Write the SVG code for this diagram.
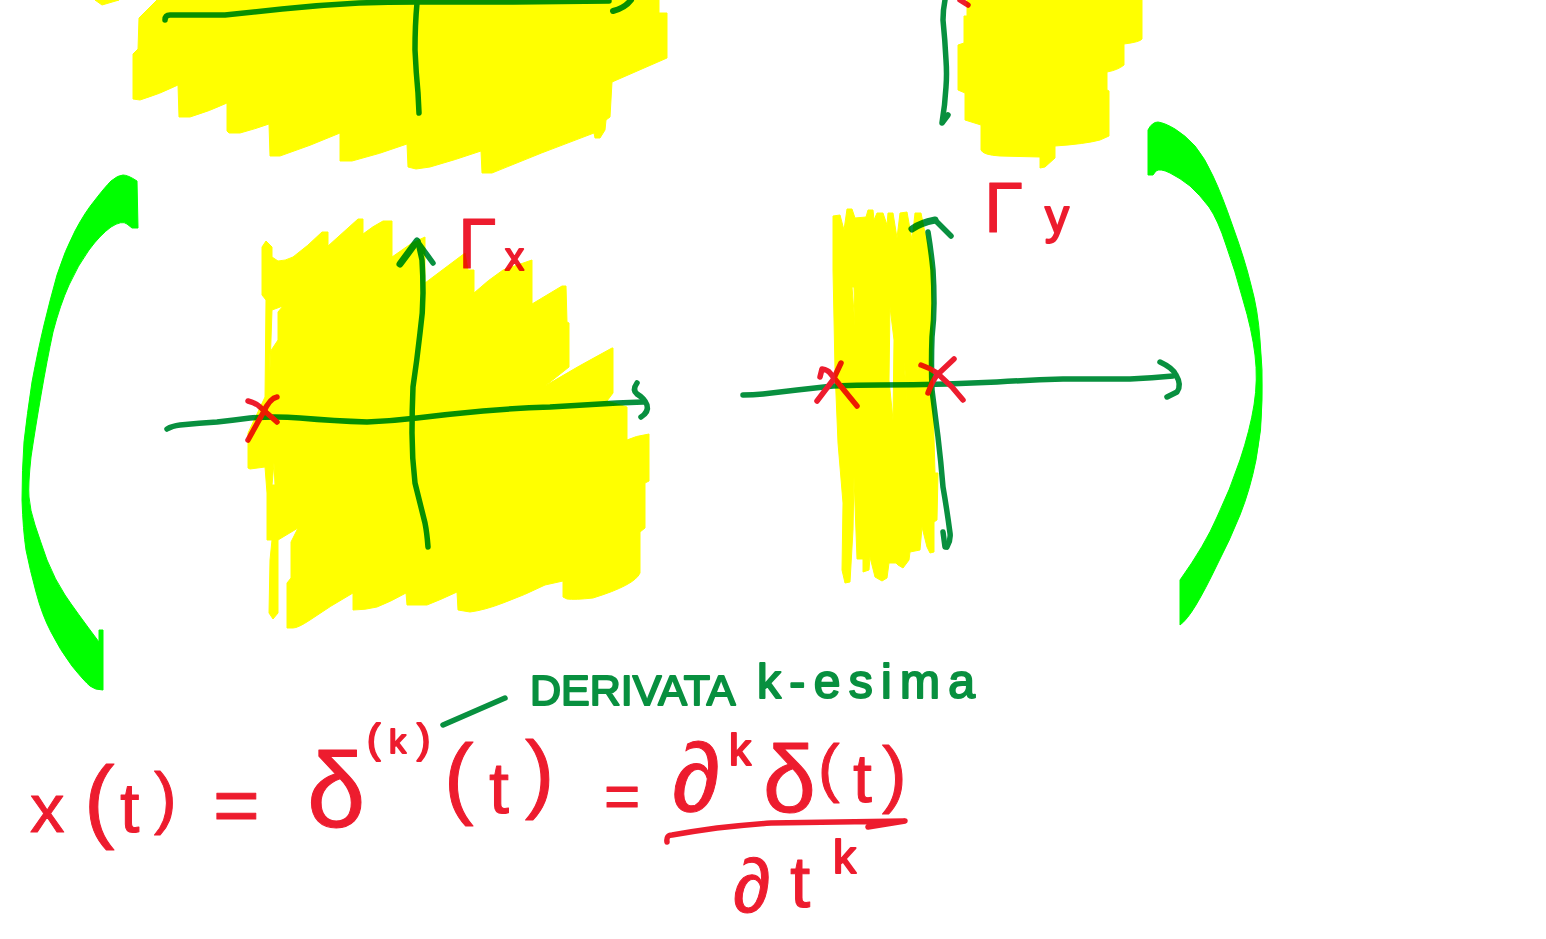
<svg xmlns="http://www.w3.org/2000/svg" width="1546" height="939" viewBox="0 0 1546 939">
<style>
.hl{fill:#ffff00;fill-rule:evenodd;stroke:#ffff00;stroke-width:1;stroke-linejoin:round;mix-blend-mode:multiply}
.br{fill:#00ff00;stroke:#00ff00;stroke-width:1;stroke-linejoin:round}
.g{fill:none;stroke:#08903f;stroke-width:5.5;stroke-linecap:round;stroke-linejoin:round}
.r{fill:none;stroke:#ed1c2e;stroke-width:5.5;stroke-linecap:round;stroke-linejoin:round}
text{font-family:"Liberation Sans","DejaVu Sans",sans-serif;stroke-linejoin:round}
.tr{fill:#ed1c2e;stroke:#ed1c2e;stroke-width:1}
.ts{fill:#ed1c2e;stroke:#ed1c2e;stroke-width:2}
.tg{fill:#08903f;stroke:#08903f;stroke-width:2;font-size:43px}
</style>
<rect width="1546" height="939" fill="#ffffff"/>
<g id="brackets">
<path class="br" d="M137 181Q128 175 123 175Q118 175 111 181Q105 187 95 200Q85 212 75 231Q65 250 57 275Q50 300 44 325Q38 350 32 382Q27 415 24 442Q22 470 22 500Q23 530 26 550Q30 570 36 592Q42 615 51 632Q60 650 72 666Q85 682 90 686Q95 690 103 690L103 630L99 630L99 642Q75 610 65 595Q55 580 47 560Q40 540 35 525Q30 510 29 497Q28 485 31 457Q35 430 41 395Q47 360 53 332Q60 305 69 285Q78 265 89 250Q100 235 111 227Q122 220 127 224L132 228L138 228Z"/>
<path class="br" d="M1148 175L1148 130Q1152 122 1158 122Q1165 123 1175 129Q1185 135 1195 146Q1205 158 1213 176Q1222 195 1233 227Q1245 260 1251 285Q1258 310 1260 340Q1263 370 1262 400Q1262 430 1256 460Q1250 490 1240 515Q1230 540 1217 565Q1205 590 1196 605Q1187 620 1180 625L1180 580Q1205 545 1217 517Q1230 490 1240 460Q1250 430 1254 405Q1258 380 1255 355Q1252 330 1243 300Q1235 270 1226 245Q1218 220 1209 207Q1200 195 1190 186Q1180 178 1170 173Q1160 168 1156 171L1153 175Z"/>
</g>
<g id="axes">
<path class="g" d="M167 429Q172 426 180 425Q200 423 217 422Q235 420 250 418Q275 416 300 418Q335 421 367 422Q392 421 417 418Q450 414 483 411Q517 408 550 407Q585 405 617 403L643 402"/>
<path class="g" d="M637 383Q632 390 637 394Q644 398 647 405Q649 412 641 417"/>
<path class="g" d="M428 547Q427 533 425 523Q420 503 415 483Q412 458 412 433Q412 410 413 387Q417 360 420 333Q423 313 423 293Q423 275 422 260L418 242"/>
<path class="g" style="stroke-width:7" d="M400 264L417 241"/>
<path class="g" d="M417 241L433 263"/>
<path class="g" d="M743 395Q753 395 763 394Q780 392 797 390Q815 388 833 386Q857 385 880 385Q913 385 947 384Q972 383 997 382Q1030 380 1063 379Q1097 379 1130 379Q1152 378 1173 376"/>
<path class="g" d="M1160 362Q1173 368 1176 375Q1182 385 1177 392L1167 397"/>
<path class="g" d="M947 547Q951 540 950 533Q947 510 943 487Q941 462 938 437Q935 413 932 390Q931 363 932 337Q934 320 934 303Q934 286 933 270Q931 250 928 232"/>
<path class="g" d="M943 532L945 547"/>
<path class="g" style="stroke-width:7" d="M912 229Q920 223 935 220"/>
<path class="g" d="M935 220L951 236"/>
<path class="g" d="M165 20Q165 15 170 15L225 15Q253 12 282 9Q320 5 359 3Q388 2 417 2L513 2L609 1"/>
<path class="g" style="stroke-width:6" d="M613 11Q625 8 631 0"/>
<path class="g" d="M417 3Q415 25 415 50Q416 72 418 93L419 113"/>
<path class="g" d="M945 0Q943 10 943 20Q945 40 946 60Q947 74 946 87Q945 105 942 123L948 115"/>
<path class="g" d="M443 725L505 698"/>
</g>
<g id="crosses">
<path class="r" d="M248 440L263 413Q270 398 277 397"/>
<path class="r" d="M248 401Q256 403 260 407L277 422"/>
<path class="r" d="M817 401L833 380L841 363"/>
<path class="r" d="M820 377L822 369Q828 370 830 373L857 406"/>
<path class="r" d="M928 393Q932 382 937 375L954 359"/>
<path class="r" d="M921 365Q930 368 937 373L952 387L963 400"/>
<path class="r" d="M960 0L968 5"/>
<path class="r" d="M667 842Q666 835 672 835Q695 831 717 828Q745 825 771 823Q840 822 905 821L868 827"/>
</g>
<g id="labels">
<text class="tr" y="268" x="458" font-size="70">Γ</text>
<text class="ts" y="270" x="505" font-size="38">x</text>
<text class="tr" y="232" x="984" font-size="71">Γ</text>
<text class="ts" y="233" x="1045" font-size="48">y</text>
<text class="tg" x="530" y="705">DERIVATA</text>
<text class="tg" x="757" y="698" style="font-size:48px" textLength="218">k-esima</text>
</g>
<g id="formula">
<text class="tr"><tspan x="30" y="832" font-size="69">x</tspan><tspan x="84" y="831" font-size="92">(</tspan><tspan x="120" y="832" font-size="70">t</tspan><tspan x="154" y="821" font-size="68">)</tspan></text>
<text class="tr" x="213" y="832" font-size="80">=</text>
<text class="tr" x="307" y="827" font-size="105">δ</text>
<text class="ts" y="753"><tspan x="367" font-size="40">(</tspan><tspan x="389" font-size="34">k</tspan><tspan x="417" font-size="40">)</tspan></text>
<text class="tr"><tspan x="444" y="807" font-size="89">(</tspan><tspan x="489" y="813" font-size="72">t</tspan><tspan x="525" y="802" font-size="88">)</tspan></text>
<text class="tr" x="604" y="817" font-size="62">=</text>
<text class="tr" x="672" y="811" font-size="97">∂</text>
<text class="ts" x="729" y="765" font-size="44">k</text>
<text class="tr"><tspan x="763" y="812" font-size="95">δ</tspan><tspan x="818" y="790" font-size="65">(</tspan><tspan x="853" y="802" font-size="68">t</tspan><tspan x="882" y="799" font-size="74">)</tspan></text>
<text class="tr"><tspan x="733" y="912" font-size="76">∂</tspan><tspan x="790" y="907" font-size="73">t</tspan></text>
<text class="ts" x="833" y="873" font-size="46">k</text>
</g>
<g id="highlight">
<path class="hl" d="M262 247L266 241L272 247L272 257L278 261Q285 261 293 257Q308 246 322 232L328 232L328 246L358 219L363 219L363 234Q373 226 383 221L392 221L392 257L412 243L425 237L425 283L465 253L468 270L474 270L474 293Q488 280 503 270L532 260L532 304L562 286L566 286L567 322L569 323L569 367L545 386Q580 365 612 348L613 348L613 393L607 401L627 407L627 440Q635 436 649 434L649 481L645 483L645 528L640 532L640 573Q635 585 593 598Q575 600 567 599L563 597L563 581L545 585Q525 595 503 603Q485 610 470 612L458 610L457 592Q440 600 427 605L407 605L406 593Q390 602 377 607Q365 610 353 610L353 593Q330 606 310 620Q298 628 293 628L287 628L287 583L291 578L291 542L298 528L278 540L278 613L273 619L269 613L270 560L272 540L267 540L267 493L265 467L250 469L248 468L248 433L265 397L266 300L262 295Z M272 310L283 306L278 312L278 340L270 352L269 397Z M274 463L275 485L272 485Z"/>
<path class="hl" d="M833 216L840 215L844 230L847 209L852 209L855 218L866 217L868 210L873 210L874 220L877 213L883 213L887 225L888 213L893 213L897 238L900 213L907 212L912 240L915 213L921 213L925 233L930 253L933 270L932 357L933 403L935 473L938 473L937 520L934 522L934 552L930 553L927 547L922 527L920 550L910 552L909 560L903 568L898 565L896 563L889 563L887 578L882 581L875 577L870 557L869 570L863 572L863 559L857 559L854 477L853 530L850 582L845 583L842 570L843 503L838 443L835 370L833 270Z M852 287L855 325L854 287Z M890 307L894 340L893 420L889 380Z M904 363L907 400L905 370Z"/>
<path class="hl" d="M157 0L139 18L138 49L133 54L133 99L140 100Q160 94 178 85L179 117L190 117Q210 111 227 103L227 131L229 133L240 133Q255 129 269 124L270 156L280 156Q310 146 340 133L340 161L352 161Q380 154 407 144L408 167L416 169L430 167Q455 160 481 151L482 173L492 173Q540 153 594 133L595 138L600 138L605 130L606 120L610 117L612 82L667 58L667 13L659 13L659 0Z"/>
<path class="hl" d="M95 0L102 5L119 0Z"/>
<path class="hl" d="M967 0L967 16L964 16L964 43L958 45L958 90L965 93L965 120L981 125L981 150Q983 155 1000 156L1040 157L1040 168L1045 167L1055 158L1055 146Q1085 144 1100 140L1109 136L1109 91L1107 90L1107 72Q1118 70 1124 65L1124 44Q1140 42 1142 39L1142 0Z"/>
</g>
</svg>
